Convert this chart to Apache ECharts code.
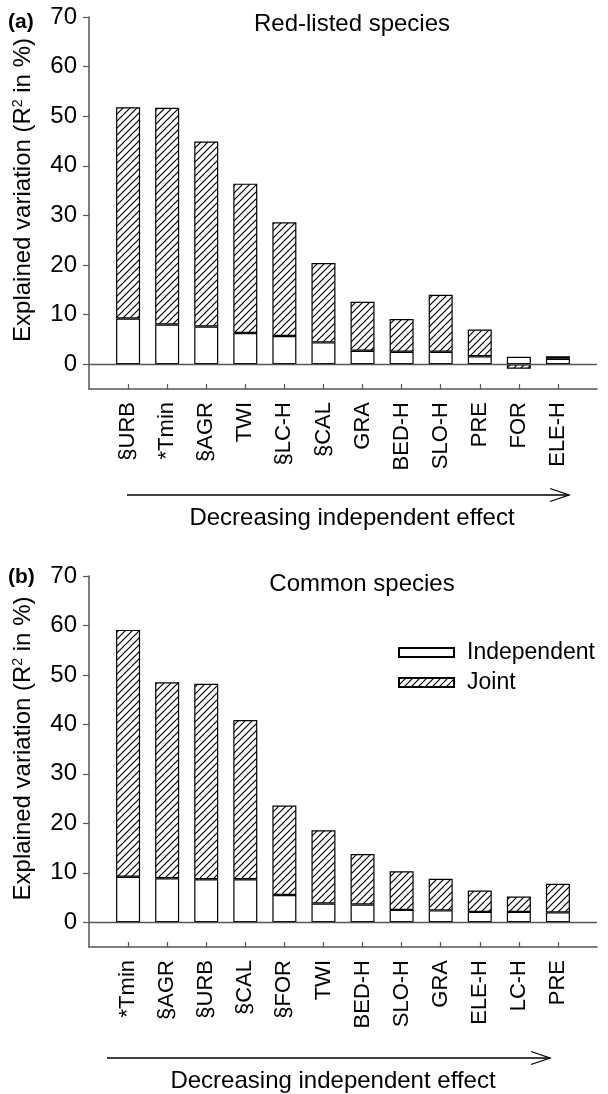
<!DOCTYPE html>
<html>
<head>
<meta charset="UTF-8">
<title>Explained variation</title>
<script src="https://cdn.jsdelivr.net/npm/echarts@6.0.0/dist/echarts.min.js"></script>
<style>
    html, body { margin: 0; padding: 0; background: #fff; }
    #chart { width: 608px; height: 1094px; }
</style>
</head>
<body>
<div id="chart"></div>
<script>
// (a) red-listed species
var redCats = ['§URB', '*Tmin', '§AGR', 'TWI', '§LC-H', '§CAL', 'GRA', 'BED-H', 'SLO-H', 'PRE', 'FOR', 'ELE-H'];
var redIndependent = [9.2, 8.0, 7.6, 6.3, 5.7, 4.4, 2.7, 2.5, 2.5, 1.6, 1.5, 1.1];
var redJoint = [42.6, 43.7, 37.3, 30.1, 22.9, 16.0, 9.9, 6.6, 11.5, 5.4, -0.9, 0.5];

// (b) common species
var commonCats = ['*Tmin', '§AGR', '§URB', '§CAL', '§FOR', 'TWI', 'BED-H', 'SLO-H', 'GRA', 'ELE-H', 'LC-H', 'PRE'];
var commonIndependent = [9.2, 8.9, 8.7, 8.7, 5.5, 3.8, 3.6, 2.5, 2.4, 2.1, 2.1, 2.0];
var commonJoint = [49.9, 39.6, 39.5, 32.2, 18.1, 14.8, 10.2, 7.8, 6.4, 4.3, 3.1, 5.8];

var yTicks = [0, 10, 20, 30, 40, 50, 60, 70];

var FONT = 'Liberation Sans, Arial, sans-serif';
var AXIS = '#555';

// empty slot at each end so the axes run past the bars like in the figure
function pad(arr, fill) {
    return [fill].concat(arr, [fill]);
}

function hatch() {
    var c = document.createElement('canvas');
    c.width = 7;
    c.height = 7;
    var g = c.getContext('2d');
    g.fillStyle = '#fff';
    g.fillRect(0, 0, 7, 7);
    g.strokeStyle = '#000';
    g.lineWidth = 1.2;
    g.beginPath();
    [-7, 0, 7].forEach(function(k) {
        g.moveTo(k - 1, 8);
        g.lineTo(k + 8, -1);
    });
    g.stroke();
    return c;
}
var hatchFill = { image: hatch(), repeat: 'repeat' };

function xAxisFor(idx, cats) {
    return {
        type: 'category',
        gridIndex: idx,
        data: pad(cats, ' '),
        boundaryGap: false,
        axisLine: { onZero: false, lineStyle: { color: AXIS, width: 1.5 } },
        axisTick: {
            inside: true, length: 5,
            interval: function(i, v) { return v.trim() !== ''; },
            lineStyle: { color: AXIS, width: 1.2 }
        },
        axisLabel: { rotate: 90, margin: 13, interval: 0, fontSize: 22, color: '#000', fontFamily: FONT },
        splitLine: { show: false }
    };
}

function yAxisFor(idx) {
    return {
        type: 'value',
        gridIndex: idx,
        min: -5,
        max: 70,
        axisLine: { show: true, lineStyle: { color: AXIS, width: 1.5 } },
        axisTick: { show: true, length: 6, customValues: yTicks, lineStyle: { color: AXIS, width: 1.2 } },
        axisLabel: { customValues: yTicks, margin: 12, fontSize: 24, color: '#000', fontFamily: FONT },
        splitLine: { show: false },
        name: 'Explained variation (R{sup|2} in %)',
        nameLocation: 'middle',
        nameGap: 54,
        nameTextStyle: {
            fontSize: 24, color: '#000', fontFamily: FONT,
            padding: [0, 0, 0, 26],
            rich: { sup: { fontSize: 14, verticalAlign: 'top', color: '#000', fontFamily: FONT } }
        }
    };
}

function barPair(idx, indep, joint) {
    return [{
        name: 'Independent',
        type: 'bar',
        xAxisIndex: idx,
        yAxisIndex: idx,
        stack: 'p' + idx,
        barWidth: 24,
        data: pad(indep, '-'),
        itemStyle: { color: '#fff', borderColor: '#000', borderWidth: 1.2 },
        markLine: {
            silent: true,
            symbol: ['none', 'none'],
            label: { show: false },
            lineStyle: { color: AXIS, width: 1.3, type: 'solid' },
            data: [{ yAxis: 0 }]
        }
    }, {
        name: 'Joint',
        type: 'bar',
        xAxisIndex: idx,
        yAxisIndex: idx,
        stack: 'p' + idx,
        barWidth: 24,
        data: pad(joint, '-'),
        itemStyle: { color: hatchFill, borderColor: '#000', borderWidth: 1.2 }
    }];
}

function txt(x, y, s, size, align, bold) {
    return {
        type: 'text', x: x, y: y, silent: true,
        style: {
            text: s, fill: '#000', textAlign: align, textVerticalAlign: 'middle',
            font: (bold ? 'bold ' : '') + size + 'px ' + FONT
        }
    };
}

function arrow(x1, x2, y) {
    return [{
        type: 'line', silent: true,
        shape: { x1: x1, y1: y, x2: x2, y2: y },
        style: { stroke: '#000', lineWidth: 1.3 }
    }, {
        type: 'polyline', silent: true,
        shape: { points: [[x2 - 19, y - 6.5], [x2, y], [x2 - 19, y + 6.5]] },
        style: { stroke: '#000', fill: null, lineWidth: 1.3 }
    }];
}

var chart = echarts.init(document.getElementById('chart'), null, { renderer: 'canvas' });

chart.setOption({
    animation: false,
    backgroundColor: '#fff',
    textStyle: { fontFamily: FONT },
    grid: [
        { left: 89, top: 17, width: 523, height: 372 },
        { left: 89, top: 576, width: 523, height: 371 }
    ],
    xAxis: [xAxisFor(0, redCats), xAxisFor(1, commonCats)],
    yAxis: [yAxisFor(0), yAxisFor(1)],
    legend: {
        data: ['Independent', 'Joint'],
        orient: 'vertical',
        left: 398,
        top: 641,
        padding: 0,
        itemWidth: 55,
        itemHeight: 9,
        itemGap: 7,
        icon: 'rect',
        textStyle: { fontSize: 23, color: '#000', fontFamily: FONT, padding: [0, 0, 0, 8] }
    },
    graphic: [
        txt(8, 22, '(a)', 21, 'left', true),
        txt(352, 24, 'Red-listed species', 24, 'center'),
        txt(352, 518, 'Decreasing independent effect', 24, 'center'),
        txt(8, 577, '(b)', 21, 'left', true),
        txt(362, 584, 'Common species', 24, 'center'),
        txt(333, 1081, 'Decreasing independent effect', 24, 'center')
    ].concat(arrow(127, 569, 495), arrow(107, 550, 1058)),
    series: barPair(0, redIndependent, redJoint).concat(barPair(1, commonIndependent, commonJoint))
});
</script>
</body>
</html>
